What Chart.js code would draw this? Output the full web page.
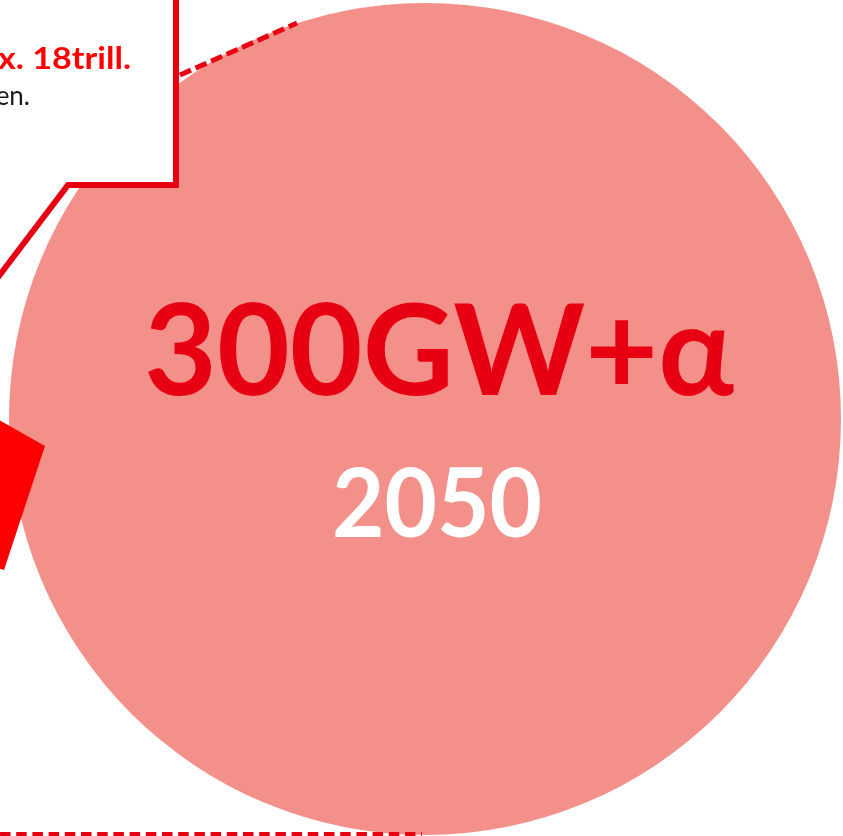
<!DOCTYPE html>
<html>
<head>
<meta charset="utf-8">
<script src="https://cdn.jsdelivr.net/npm/chart.js@4/dist/chart.umd.min.js"></script>
<style>
    html, body { margin: 0; padding: 0; background: #ffffff; overflow: hidden; }
    #graph-content { position: relative; width: 843px; height: 836px; }
</style>
</head>
<body>
<div id="graph-content"><canvas id="chartPie"></canvas></div>
<script>
// target capacity shown in the bubble
var capacityLabels = ['300GW+α'];
var capacityValues = [300];
var targetYears = ['2050'];

// callout text (cut off by the left edge of the slide)
var calloutLines = ['x. 18trill.', 'en.'];

var ROJO = '#e60012';
var ROJO_VIVO = '#ff0000';
var SALMON = '#f4908a';
var FUENTE = 'Lato, "Open Sans", "Noto Sans", sans-serif';

function CapacityChart(canvas) {
    this.canvas = canvas;
    this.chart = null;
}

CapacityChart.prototype.init = function() {
    var obj = this;

    var pieData = {
        labels: capacityLabels,
        datasets: [
            {
                label: 'Capacity',
                backgroundColor: SALMON,
                borderWidth: 0,
                data: capacityValues
            }
        ]
    };

    var pieOptions = {
        responsive: true,
        maintainAspectRatio: false,
        animation: false,
        layout: { padding: { left: 9, right: 2, top: 3, bottom: 1 } },
        plugins: {
            legend: { display: false },
            tooltip: { enabled: false }
        }
    };

    obj.chart = new Chart(obj.canvas, {
        type: 'pie',
        data: pieData,
        options: pieOptions,
        plugins: [obj.overlay()]
    });
};

// text sized by digit height and stretched to the wanted width
CapacityChart.prototype.fitText = function(ctx, text, x, baseline, digitHeight, width, weight, color, align) {
    ctx.save();
    ctx.font = weight + ' 100px ' + FUENTE;
    var ratio = ctx.measureText('0').actualBoundingBoxAscent / 100;
    var size = digitHeight / ratio;
    ctx.font = weight + ' ' + size + 'px ' + FUENTE;
    var sx = width / ctx.measureText(text).width;
    ctx.translate(x, baseline);
    ctx.scale(sx, 1);
    ctx.textAlign = align || 'center';
    ctx.textBaseline = 'alphabetic';
    ctx.fillStyle = color;
    ctx.fillText(text, 0, 0);
    ctx.restore();
};

CapacityChart.prototype.overlay = function() {
    var obj = this;
    return {
        id: 'overlay',
        afterDatasetsDraw: function(chart) {
            var ctx = chart.ctx;
            var arc = chart.getDatasetMeta(0).data[0];
            var cx = arc.x, cy = arc.y;

            // bubble labels
            obj.fitText(ctx, capacityLabels[0], cx + 14, cy - 24, 93, 590, 'bold', ROJO);
            obj.fitText(ctx, targetYears[0], cx + 12, cy + 118, 70, 210, 'bold', '#ffffff');

            ctx.save();

            // dashed guide lines
            ctx.strokeStyle = ROJO;
            ctx.setLineDash([12, 5]);
            ctx.lineWidth = 5;
            ctx.beginPath();
            ctx.moveTo(180, 75);
            ctx.lineTo(297, 23);
            ctx.stroke();

            ctx.lineWidth = 4;
            ctx.setLineDash([10.5, 5.7]);
            ctx.beginPath();
            ctx.moveTo(0, 834);
            ctx.lineTo(422, 834);
            ctx.stroke();
            ctx.setLineDash([]);

            // callout box
            ctx.beginPath();
            ctx.moveTo(-30, -10);
            ctx.lineTo(176, -10);
            ctx.lineTo(176, 185);
            ctx.lineTo(68, 185);
            ctx.lineTo(-20, 301);
            ctx.lineTo(-30, 301);
            ctx.closePath();
            ctx.fillStyle = '#ffffff';
            ctx.fill();
            ctx.lineWidth = 6;
            ctx.lineJoin = 'miter';
            ctx.strokeStyle = ROJO;
            ctx.stroke();

            obj.fitText(ctx, calloutLines[0], 131, 69, 22, 133, 'bold', ROJO_VIVO, 'right');

            ctx.textAlign = 'right';
            ctx.textBaseline = 'alphabetic';
            ctx.font = '26px ' + FUENTE;
            ctx.fillStyle = '#1a1a1a';
            ctx.fillText(calloutLines[1], 30, 105);

            // red arrow head
            ctx.beginPath();
            ctx.moveTo(-40, 398);
            ctx.lineTo(45, 446);
            ctx.lineTo(4, 570);
            ctx.lineTo(-30, 560);
            ctx.closePath();
            ctx.fillStyle = ROJO_VIVO;
            ctx.fill();

            ctx.restore();
        }
    };
};

var grafico = new CapacityChart(document.getElementById('chartPie'));
grafico.init();
</script>
</body>
</html>
